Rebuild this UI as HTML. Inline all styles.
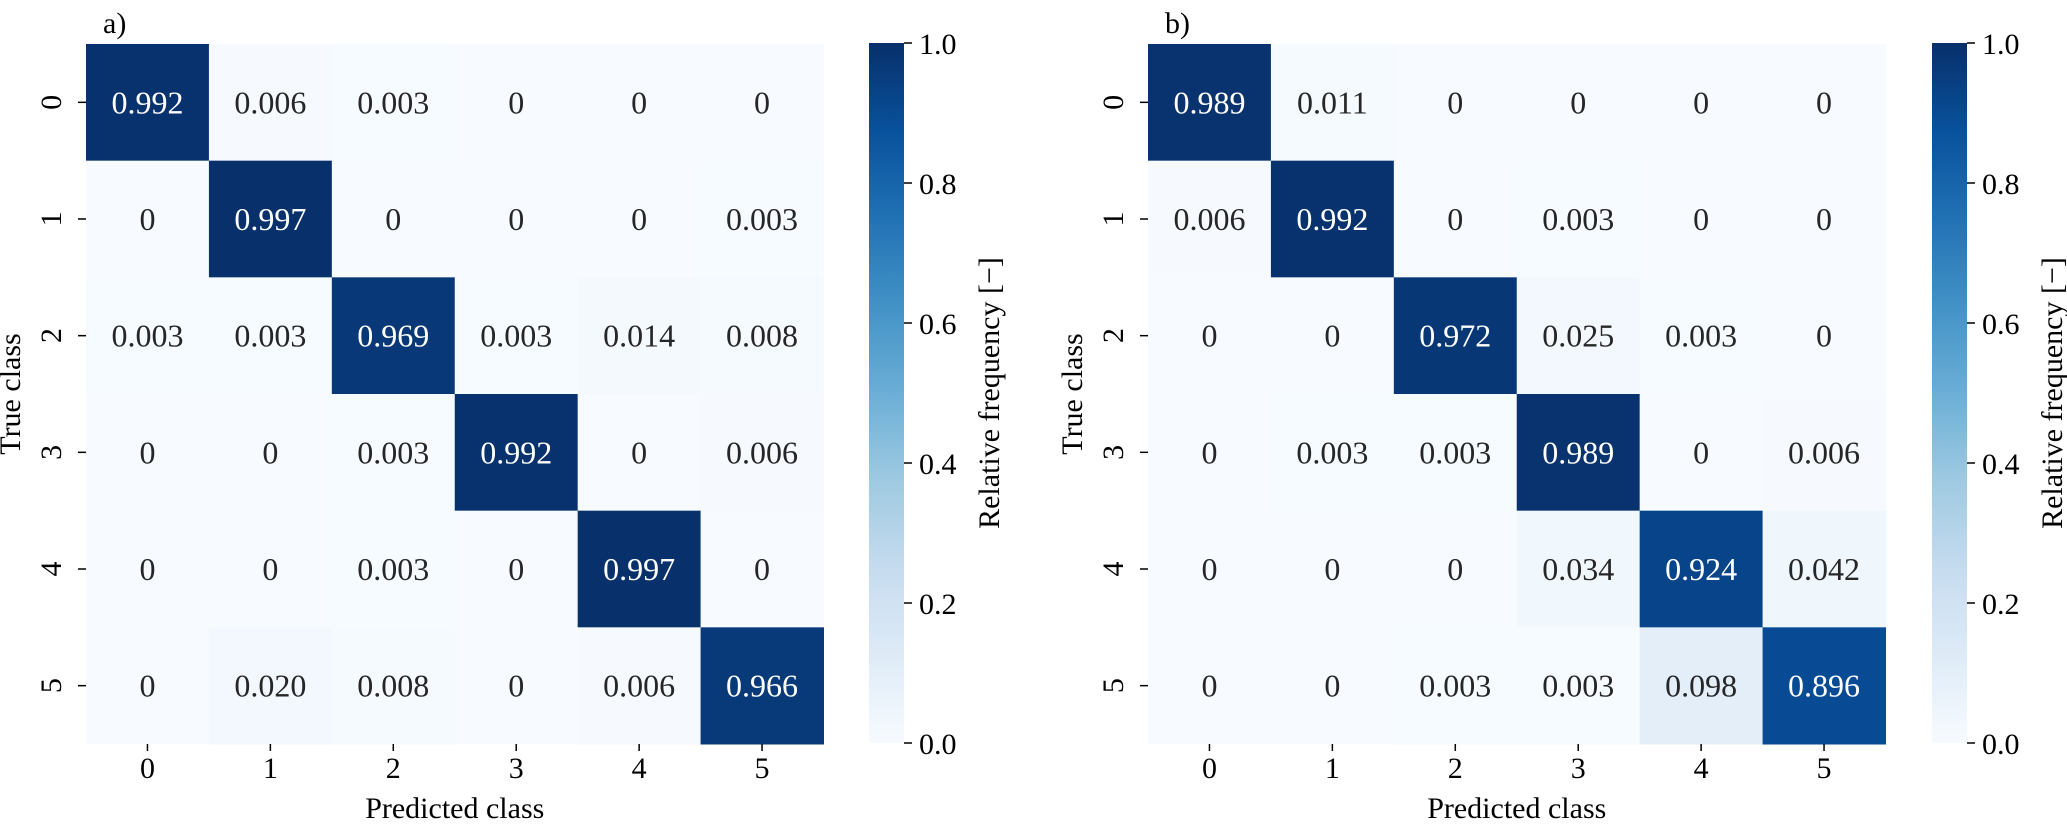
<!DOCTYPE html>
<html><head><meta charset="utf-8"><style>
html,body{margin:0;padding:0;background:#fff;}
svg{display:block;font-family:"Liberation Serif",serif;}
</style></head><body>
<svg id="chart" width="2067" height="825" xmlns="http://www.w3.org/2000/svg">
<defs>
<linearGradient id="blues" x1="0" y1="1" x2="0" y2="0">
<stop offset="0" stop-color="#f7fbff"/><stop offset="0.125" stop-color="#deebf7"/><stop offset="0.25" stop-color="#c6dbef"/><stop offset="0.375" stop-color="#9ecae1"/><stop offset="0.5" stop-color="#6baed6"/><stop offset="0.625" stop-color="#4292c6"/><stop offset="0.75" stop-color="#2171b5"/><stop offset="0.875" stop-color="#08519c"/><stop offset="1" stop-color="#08306b"/>
</linearGradient>
</defs>
</svg>
<script>
const classes = ["0","1","2","3","4","5"];
const matrixA = [
 [0.992,0.006,0.003,0,0,0],
 [0,0.997,0,0,0,0.003],
 [0.003,0.003,0.969,0.003,0.014,0.008],
 [0,0,0.003,0.992,0,0.006],
 [0,0,0.003,0,0.997,0],
 [0,0.020,0.008,0,0.006,0.966]
];
const matrixB = [
 [0.989,0.011,0,0,0,0],
 [0.006,0.992,0,0.003,0,0],
 [0,0,0.972,0.025,0.003,0],
 [0,0.003,0.003,0.989,0,0.006],
 [0,0,0,0.034,0.924,0.042],
 [0,0,0.003,0.003,0.098,0.896]
];
const cbTicks = [0,0.2,0.4,0.6,0.8,1.0];

const NS="http://www.w3.org/2000/svg";
const svg=document.getElementById('chart');
const stops=[[0,[247,251,255]],[0.125,[222,235,247]],[0.25,[198,219,239]],[0.375,[158,202,225]],[0.5,[107,174,214]],[0.625,[66,146,198]],[0.75,[33,113,181]],[0.875,[8,81,156]],[1,[8,48,107]]];
function cmap(v){v=Math.max(0,Math.min(1,v));for(let i=1;i<stops.length;i++){if(v<=stops[i][0]){const a=stops[i-1],b=stops[i];const t=(v-a[0])/(b[0]-a[0]);const c=a[1].map((x,k)=>Math.round(x+(b[1][k]-x)*t));return `rgb(${c.join(',')})`;}}return 'rgb(8,48,107)';}
function el(tag,attrs,text){const e=document.createElementNS(NS,tag);for(const k in attrs)e.setAttribute(k,attrs[k]);if(text!==undefined)e.textContent=text;svg.appendChild(e);return e;}

function panel(mat,x0,cbx,letter,labx){
 const y0=44,W=737.5,H=700,cw=W/6,ch=H/6;
 const xs=i=>x0+i*cw, ys=j=>y0+j*ch;
 const cbY=v=>743-v*700;
 let t=el('text',{x:labx,y:33,'font-size':30,fill:'#000'},letter+')');
 
 
 mat.forEach((row,j)=>row.forEach((v,i)=>{
  const r=el('rect',{x:xs(i),y:ys(j),width:cw+0.5,height:ch+0.5,fill:cmap(v)});
  
  
  const s=v===0?'0':v.toFixed(3);
  const tx=el('text',{x:xs(i)+cw/2,y:ys(j)+ch/2+11,'font-size':32,'text-anchor':'middle',fill:v>0.5?'#fff':'#262626'},s);
  
  
 }));
 classes.forEach((c,i)=>{
  el('line',{x1:xs(i)+cw/2,x2:xs(i)+cw/2,y1:744,y2:751,stroke:'#000','stroke-width':1.5});
  const a=el('text',{x:xs(i)+cw/2,y:778,'font-size':30,'text-anchor':'middle',fill:'#000'},c);
  
  
  el('line',{x1:x0-8,x2:x0,y1:ys(i)+ch/2,y2:ys(i)+ch/2,stroke:'#000','stroke-width':1.5});
  const yy=ys(i)+ch/2, xx=x0-25;
  const b=el('text',{x:xx,y:yy,'font-size':30,'text-anchor':'middle',fill:'#000',transform:`rotate(-90 ${xx} ${yy})`},c);
  
  
 });
 const xl=el('text',{x:x0+W/2,y:818,'font-size':30,'text-anchor':'middle',fill:'#000'},'Predicted class');
 
 
 const yx=x0-66, yy=y0+H/2;
 const yl=el('text',{x:yx,y:yy,'font-size':30,'text-anchor':'middle',fill:'#000',transform:`rotate(-90 ${yx} ${yy})`},'True class');
 
 
 const cb=el('rect',{x:cbx,y:43,width:35,height:700,fill:'url(#blues)'});
 
 
 cbTicks.forEach(v=>{
  el('line',{x1:cbx+35,x2:cbx+43,y1:cbY(v),y2:cbY(v),stroke:'#000','stroke-width':1.5});
  const ct=el('text',{x:cbx+50,y:cbY(v)+11,'font-size':30,fill:'#000'},v.toFixed(1));
  
  
 });
 const cx=cbx+130, cy=393;
 const cl=el('text',{x:cx,y:cy,'font-size':30,'text-anchor':'middle',fill:'#000',transform:`rotate(-90 ${cx} ${cy})`},'Relative frequency [\u2212]');
 
 
}
panel(matrixA,86,869,'a',103);
panel(matrixB,1148,1932,'b',1165);
</script>
</body></html>
